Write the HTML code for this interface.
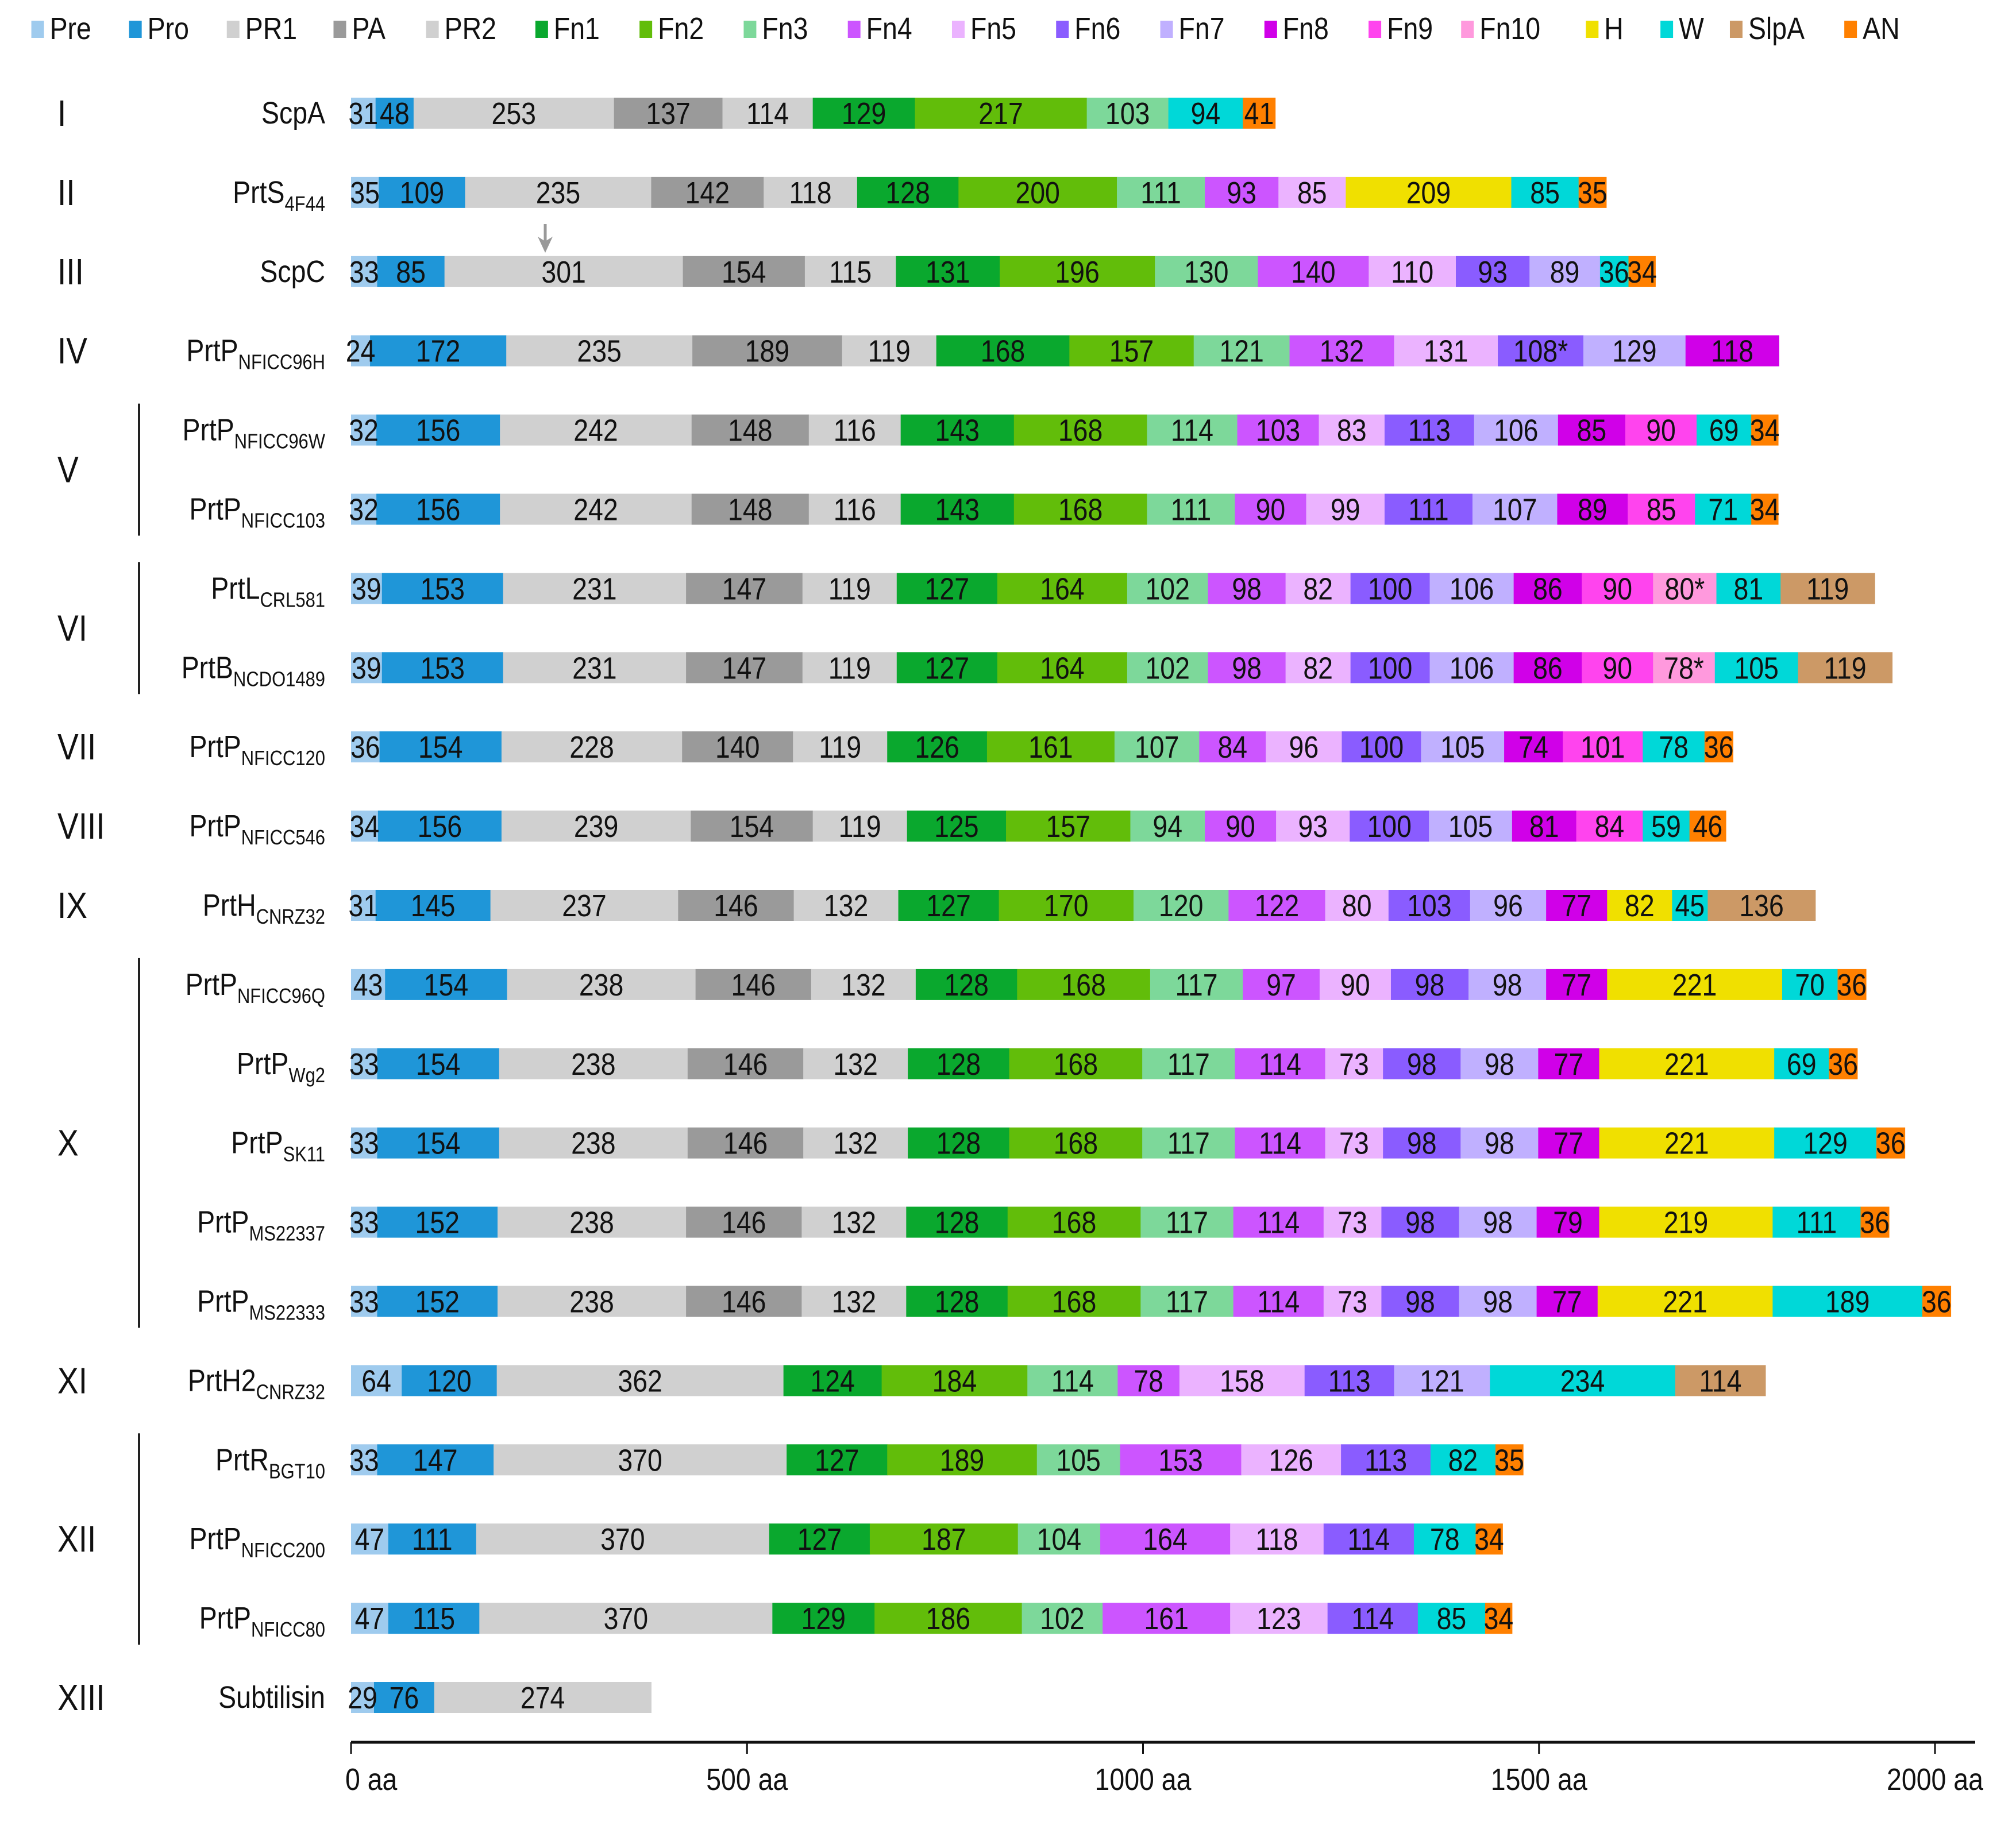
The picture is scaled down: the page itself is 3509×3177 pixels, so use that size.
<!DOCTYPE html>
<html><head><meta charset="utf-8">
<style>
html,body{margin:0;padding:0;background:#fff;}
svg{display:block;font-family:"Liberation Sans",Arial,sans-serif;}
</style></head>
<body>
<svg id="chart" width="3509" height="3177" viewBox="0 0 3509 3177" xmlns="http://www.w3.org/2000/svg"></svg>
<script>
const domainTypes = ["Pre","Pro","PR1","PA","PR2","Fn1","Fn2","Fn3","Fn4","Fn5","Fn6","Fn7","Fn8","Fn9","Fn10","H","W","SlpA","AN"];
const domainColors = {Pre:"#9fcbee",Pro:"#1f96d8",PR1:"#d0d0d0",PA:"#9a9a9a",PR2:"#d0d0d0",Fn1:"#0aa82e",Fn2:"#62bd0a",Fn3:"#7dd89a",Fn4:"#cc55ff",Fn5:"#ebb3ff",Fn6:"#8a5cff",Fn7:"#c0b0ff",Fn8:"#d000e8",Fn9:"#ff44ee",Fn10:"#ff99dd",H:"#f0e000",W:"#00d8d8",SlpA:"#cc9966",AN:"#ff8000"};
const legendX = [36,112,188,271,343,428,509,590,671,752,833,914,995,1076,1148,1245,1303,1357,1446];
const proteinNames = [["ScpA",""],["PrtS","4F44"],["ScpC",""],["PrtP","NFICC96H"],["PrtP","NFICC96W"],["PrtP","NFICC103"],["PrtL","CRL581"],["PrtB","NCDO1489"],["PrtP","NFICC120"],["PrtP","NFICC546"],["PrtH","CNRZ32"],["PrtP","NFICC96Q"],["PrtP","Wg2"],["PrtP","SK11"],["PrtP","MS22337"],["PrtP","MS22333"],["PrtH2","CNRZ32"],["PrtR","BGT10"],["PrtP","NFICC200"],["PrtP","NFICC80"],["Subtilisin",""]];
const std = ["Pre","Pro","PR1","PA","PR2","Fn1","Fn2","Fn3"];
const rowTypes = [
 std.concat(["W","AN"]),
 std.concat(["Fn4","Fn5","H","W","AN"]),
 std.concat(["Fn4","Fn5","Fn6","Fn7","W","AN"]),
 std.concat(["Fn4","Fn5","Fn6","Fn7","Fn8"]),
 std.concat(["Fn4","Fn5","Fn6","Fn7","Fn8","Fn9","W","AN"]),
 std.concat(["Fn4","Fn5","Fn6","Fn7","Fn8","Fn9","W","AN"]),
 std.concat(["Fn4","Fn5","Fn6","Fn7","Fn8","Fn9","Fn10","W","SlpA"]),
 std.concat(["Fn4","Fn5","Fn6","Fn7","Fn8","Fn9","Fn10","W","SlpA"]),
 std.concat(["Fn4","Fn5","Fn6","Fn7","Fn8","Fn9","W","AN"]),
 std.concat(["Fn4","Fn5","Fn6","Fn7","Fn8","Fn9","W","AN"]),
 std.concat(["Fn4","Fn5","Fn6","Fn7","Fn8","H","W","SlpA"]),
 std.concat(["Fn4","Fn5","Fn6","Fn7","Fn8","H","W","AN"]),
 std.concat(["Fn4","Fn5","Fn6","Fn7","Fn8","H","W","AN"]),
 std.concat(["Fn4","Fn5","Fn6","Fn7","Fn8","H","W","AN"]),
 std.concat(["Fn4","Fn5","Fn6","Fn7","Fn8","H","W","AN"]),
 std.concat(["Fn4","Fn5","Fn6","Fn7","Fn8","H","W","AN"]),
 ["Pre","Pro","PR1","Fn1","Fn2","Fn3","Fn4","Fn5","Fn6","Fn7","W","SlpA"],
 ["Pre","Pro","PR1","Fn1","Fn2","Fn3","Fn4","Fn5","Fn6","W","AN"],
 ["Pre","Pro","PR1","Fn1","Fn2","Fn3","Fn4","Fn5","Fn6","W","AN"],
 ["Pre","Pro","PR1","Fn1","Fn2","Fn3","Fn4","Fn5","Fn6","W","AN"],
 ["Pre","Pro","PR1"]
];
const rowLengths = [
 [31,48,253,137,114,129,217,103,94,41],
 [35,109,235,142,118,128,200,111,93,85,209,85,35],
 [33,85,301,154,115,131,196,130,140,110,93,89,36,34],
 [24,172,235,189,119,168,157,121,132,131,108,129,118],
 [32,156,242,148,116,143,168,114,103,83,113,106,85,90,69,34],
 [32,156,242,148,116,143,168,111,90,99,111,107,89,85,71,34],
 [39,153,231,147,119,127,164,102,98,82,100,106,86,90,80,81,119],
 [39,153,231,147,119,127,164,102,98,82,100,106,86,90,78,105,119],
 [36,154,228,140,119,126,161,107,84,96,100,105,74,101,78,36],
 [34,156,239,154,119,125,157,94,90,93,100,105,81,84,59,46],
 [31,145,237,146,132,127,170,120,122,80,103,96,77,82,45,136],
 [43,154,238,146,132,128,168,117,97,90,98,98,77,221,70,36],
 [33,154,238,146,132,128,168,117,114,73,98,98,77,221,69,36],
 [33,154,238,146,132,128,168,117,114,73,98,98,77,221,129,36],
 [33,152,238,146,132,128,168,117,114,73,98,98,79,219,111,36],
 [33,152,238,146,132,128,168,117,114,73,98,98,77,221,189,36],
 [64,120,362,124,184,114,78,158,113,121,234,114],
 [33,147,370,127,189,105,153,126,113,82,35],
 [47,111,370,127,187,104,164,118,114,78,34],
 [47,115,370,129,186,102,161,123,114,85,34],
 [29,76,274]
];
const starred = {"3-10":true,"6-14":true,"7-14":true};
const groupLabels = [["I",0,0],["II",1,1],["III",2,2],["IV",3,3],["V",4,5],["VI",6,7],["VII",8,8],["VIII",9,9],["IX",10,10],["X",11,15],["XI",16,16],["XII",17,19],["XIII",20,20]];
const xTicks = [0,500,1000,1500,2000];

const NS="http://www.w3.org/2000/svg";
const svg=document.getElementById('chart');
const X0=611, PXAA=(3368-611)/2000;
const xs=aa=>X0+aa*PXAA;
const rowY=i=>197+i*137.9;
const BH=54;
const SX=0.86;
function mk(tag,attrs,parent){const e=document.createElementNS(NS,tag);for(const k in attrs)e.setAttribute(k,attrs[k]);(parent||svg).appendChild(e);return e;}
function ctext(x,y,str,size,anchor,parent){
  const t=mk('text',{x:x/SX,y:y,'text-anchor':anchor,'font-size':size,fill:'#111',transform:'scale('+SX+',1)'},parent);
  t.textContent=str;return t;
}

// legend
domainTypes.forEach((t,i)=>{
  const g=mk('g',{});
  
  
  const x=legendX[i]*2.238-6;
  mk('rect',{x:x-20,y:36,width:22,height:30,fill:domainColors[t]},g);
  ctext(x+12,68,t,54,'start',g);
});

// rows
rowLengths.forEach((lens,r)=>{
  const g=mk('g',{});
  
  
  const cy=rowY(r);
  const nm=mk('text',{x:566/SX,y:cy+18,'text-anchor':'end','font-size':54,fill:'#111',transform:'scale('+SX+',1)'},g);
  
  
  nm.textContent=proteinNames[r][0];
  if(proteinNames[r][1]){const s=mk('tspan',{'font-size':36,dy:14},nm);s.textContent=proteinNames[r][1];}
  let acc=0;
  lens.forEach((L,j)=>{
    const t=rowTypes[r][j];
    const x=xs(acc), w=L*PXAA;
    const rc=mk('rect',{x:x,y:cy-BH/2,width:w+0.5,height:BH,fill:domainColors[t]},g);
    
    
    acc+=L;
  });
  acc=0;
  lens.forEach((L,j)=>{
    const x=xs(acc), w=L*PXAA;
    ctext(x+w/2,cy+19,L+(starred[r+'-'+j]?'*':''),54,'middle',g);
    acc+=L;
  });
});

// group labels and brackets
groupLabels.forEach(([lab,a,b])=>{
  const cy=(rowY(a)+rowY(b))/2;
  const t=ctext(100,cy+22,lab,64,'start');
  
  
  if(b>a){
    const l=mk('line',{x1:242,x2:242,y1:rowY(a)-46,y2:rowY(b)+46,stroke:'#222','stroke-width':4});
    
    
  }
});

// arrow on ScpC
const ag=mk('g',{});


mk('line',{x1:949,x2:949,y1:390,y2:425,stroke:'#999','stroke-width':5},ag);
mk('path',{d:'M936 412 L949 440 L962 412 L949 420 Z',fill:'#999'},ag);

// axis
const axg=mk('g',{});


mk('line',{x1:X0,x2:3438,y1:3033,y2:3033,stroke:'#111','stroke-width':5},axg);
xTicks.forEach(v=>{
  mk('line',{x1:xs(v),x2:xs(v),y1:3033,y2:3053,stroke:'#111','stroke-width':3},axg);
  const t=ctext(xs(v)+(v===0?-10:0),3116,v+' aa',54,v===0?'start':'middle',axg);
  
  
});
</script>
</body></html>
